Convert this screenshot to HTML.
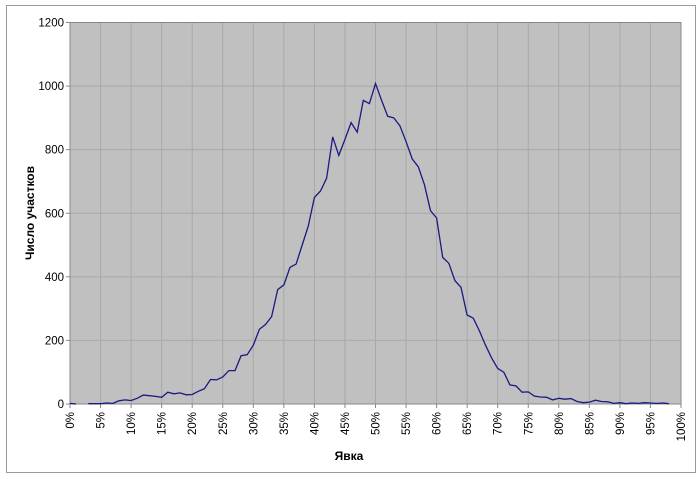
<!DOCTYPE html>
<html><head><meta charset="utf-8"><style>body{margin:0;background:#fff}svg{display:block}</style></head><body>
<svg width="700" height="479" xmlns="http://www.w3.org/2000/svg" font-family="Liberation Sans, sans-serif">
<rect x="0" y="0" width="700" height="479" fill="#fff"/>
<rect x="6.5" y="5.5" width="689" height="467" fill="none" stroke="#999" stroke-width="1"/>
<rect x="70" y="22.5" width="611" height="381.5" fill="#c0c0c0"/>
<g stroke="#a8a8a8" stroke-width="1" id="grid"></g>
<rect x="70" y="22.5" width="611" height="381.5" fill="none" stroke="#888" stroke-width="1"/>
<g id="lab" font-size="11.5" fill="#000"></g>
<polyline id="s1" fill="none" stroke="#1a1a80" stroke-width="1.3"/>
<polyline id="s2" fill="none" stroke="#1a1a80" stroke-width="1.3"/>
<text x="349" y="460" font-size="12" font-weight="bold" text-anchor="middle">Явка</text>
<text transform="translate(34,213) rotate(-90)" font-size="12" font-weight="bold" text-anchor="middle">Число участков</text>
<script>
var L=70,R=681,T=22.5,B=404,ns="http://www.w3.org/2000/svg";
function X(p){return L+(R-L)*p/100}function Y(v){return B-(B-T)*v/1200}
var g=document.getElementById('grid'),lab=document.getElementById('lab');
function el(t,a,p,txt){var e=document.createElementNS(ns,t);for(var k in a)e.setAttribute(k,a[k]);if(txt!=null)e.textContent=txt;p.appendChild(e);}
for(var i=1;i<20;i++)el('line',{x1:X(i*5),x2:X(i*5),y1:T,y2:B},g);
for(var v=200;v<1200;v+=200)el('line',{x1:L,x2:R,y1:Y(v),y2:Y(v)},g);
for(var v=0;v<=1200;v+=200){el('line',{x1:L-4,x2:L,y1:Y(v),y2:Y(v),stroke:'#888'},lab);el('text',{x:L-6,y:Y(v)+4,'text-anchor':'end'},lab,v);}
for(var i=0;i<=20;i++){var x=X(i*5);el('line',{x1:x,x2:x,y1:B,y2:B+4,stroke:'#888'},lab);el('text',{transform:'translate('+(x+4)+','+(B+8)+') rotate(-90)','text-anchor':'end'},lab,(i*5)+'%');}
var d0={3:1,4:1,5:3,6:2,7:10,8:13,9:11,10:18,11:28,12:26,13:24,14:21,15:37,16:32,17:35,18:29,19:30,20:40,21:48,22:77,23:76,24:85,25:105,26:105,27:152,28:155,29:185,30:235,31:250,32:275,33:360,34:375,35:430,36:440,37:500,38:560,39:650,40:670,41:710,42:840,43:782,44:832,45:885,46:855,47:955,48:945,49:1008,50:955,51:905,52:900,53:875,54:825,55:771,56:746,57:690,58:608,59:585,60:461,61:443,62:388,63:367,64:280,65:270,66:230,67:185,68:145,69:112,70:100,71:60,72:57,73:37,74:38,75:25,76:22,77:21,78:13,79:18,80:15,81:17,82:8,83:4,84:6,85:12,86:8,87:7,88:2,89:4,90:1,91:3,92:2,93:4,94:3,95:2,96:3,97:1};
var d={3:1};for(var k=3;k<=97;k++)d[k+1]=d0[k];
var p=[];for(var k=3;k<=98;k++)p.push(X(k).toFixed(1)+','+Y(d[k]).toFixed(1));
document.getElementById('s2').setAttribute('points',p.join(' '));
document.getElementById('s1').setAttribute('points',X(0)+','+Y(2)+' '+X(1)+','+Y(0));
</script>
</svg>
</body></html>
